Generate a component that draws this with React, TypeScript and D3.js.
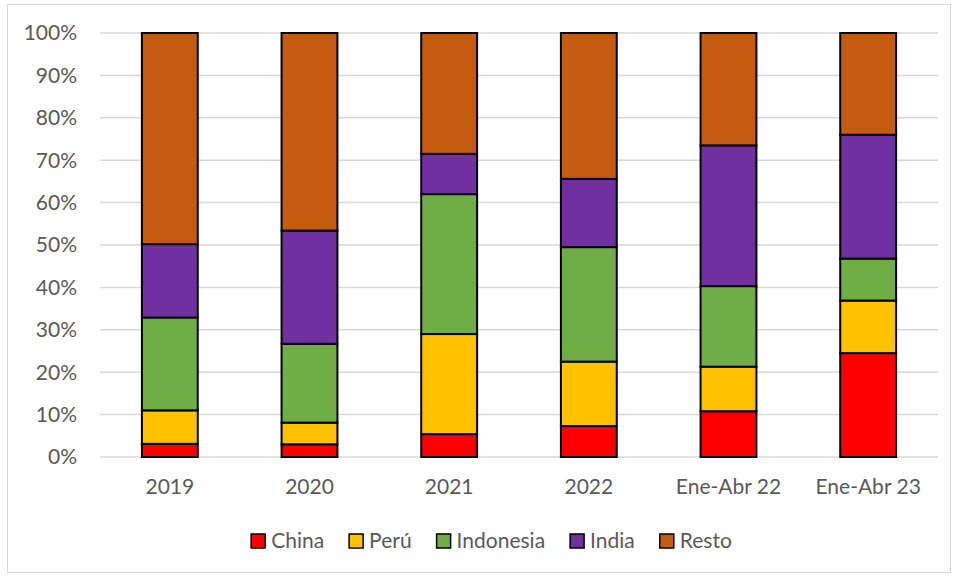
import React, { useEffect, useRef } from "react";
import * as d3 from "d3";

const categories = ["2019", "2020", "2021", "2022", "Ene-Abr 22", "Ene-Abr 23"];
const seriesNames = ["China", "Perú", "Indonesia", "India", "Resto"];
const seriesColors = ["#FF0000", "#FFC000", "#70AD47", "#7030A0", "#C55A11"];
const china = [3.1, 3.0, 5.4, 7.3, 10.8, 24.5];
const peru = [7.9, 5.1, 23.6, 15.2, 10.5, 12.4];
const indonesia = [21.9, 18.6, 33.0, 27.0, 19.0, 9.9];
const india = [17.3, 26.7, 9.5, 16.1, 33.2, 29.2];
const resto = [49.8, 46.6, 28.5, 34.4, 26.5, 24.0];
const yTicks = [0, 10, 20, 30, 40, 50, 60, 70, 80, 90, 100];

const W = 956;
const H = 576;
const FONT = "Lato, 'Noto Sans', sans-serif";
const FS = 21;

export default function App() {
  const ref = useRef<SVGSVGElement | null>(null);

  useEffect(() => {
    const svg = d3.select(ref.current);
    svg.selectAll("*").remove();

    const left = 100, right = 938, top = 33, bottom = 457;
    const x = d3.scaleBand<string>().domain(categories).range([left, right]).paddingInner(0.6).paddingOuter(0.3);
    const y = d3.scaleLinear().domain([0, 100]).range([bottom, top]);

    // chart frame
    svg.append("rect").attr("x", 7.5).attr("y", 4.5).attr("width", 943).attr("height", 568)
      .attr("fill", "#fff").attr("stroke", "#d9d9d9").attr("stroke-width", 1);

    // gridlines
    svg.append("g").selectAll("line").data(yTicks).join("line")
      .attr("x1", left).attr("x2", right)
      .attr("y1", d => y(d)).attr("y2", d => y(d))
      .attr("stroke", "#d9d9d9").attr("stroke-width", 1.5);

    // y labels
    svg.append("g").selectAll("text").data(yTicks).join("text")
      .attr("x", 77).attr("y", d => y(d)).attr("dy", "0.35em")
      .attr("text-anchor", "end").attr("font-family", FONT).attr("font-size", FS)
      .attr("fill", "#595959").text(d => `${d}%`);

    // stack
    const rows = categories.map((c, i) => ({
      cat: c, China: china[i], "Perú": peru[i], Indonesia: indonesia[i], India: india[i], Resto: resto[i],
    }));
    const stack = d3.stack<any>().keys(seriesNames);
    const layers = stack(rows);

    const g = svg.append("g");
    layers.forEach((layer, li) => {
      g.append("g").selectAll("rect").data(layer).join("rect")
        .attr("x", d => x(d.data.cat)!)
        .attr("width", x.bandwidth())
        .attr("y", d => y(d[1]))
        .attr("height", d => y(d[0]) - y(d[1]))
        .attr("fill", seriesColors[li])
        .attr("stroke", "#000").attr("stroke-width", 2);
    });

    // x labels
    svg.append("g").selectAll("text").data(categories).join("text")
      .attr("x", d => x(d)! + x.bandwidth() / 2).attr("y", 487).attr("dy", "0.35em")
      .attr("text-anchor", "middle").attr("font-family", FONT).attr("font-size", FS)
      .attr("fill", "#595959").text(d => d);

    // legend
    const lg = svg.append("g");
    const items = seriesNames.map((n, i) => {
      const it = lg.append("g");
      it.append("rect").attr("x", 0).attr("y", -7).attr("width", 14).attr("height", 14)
        .attr("fill", seriesColors[i]).attr("stroke", "#000").attr("stroke-width", 1.5);
      const t = it.append("text").attr("x", 20).attr("y", 0).attr("dy", "0.35em")
        .attr("font-family", FONT).attr("font-size", FS).attr("fill", "#595959").text(n);
      const w = 20 + (t.node() as SVGTextElement).getComputedTextLength();
      return { it, w };
    });
    const gap = 25;
    const total = items.reduce((s, d) => s + d.w, 0) + gap * (items.length - 1);
    let cx = (251 + 732) / 2 - total / 2;
    items.forEach(({ it, w }) => {
      it.attr("transform", `translate(${cx},541)`);
      cx += w + gap;
    });
  }, []);

  return (
    <svg ref={ref} width={W} height={H} style={{ position: "absolute", left: 0, top: 0, display: "block" }} />
  );
}
